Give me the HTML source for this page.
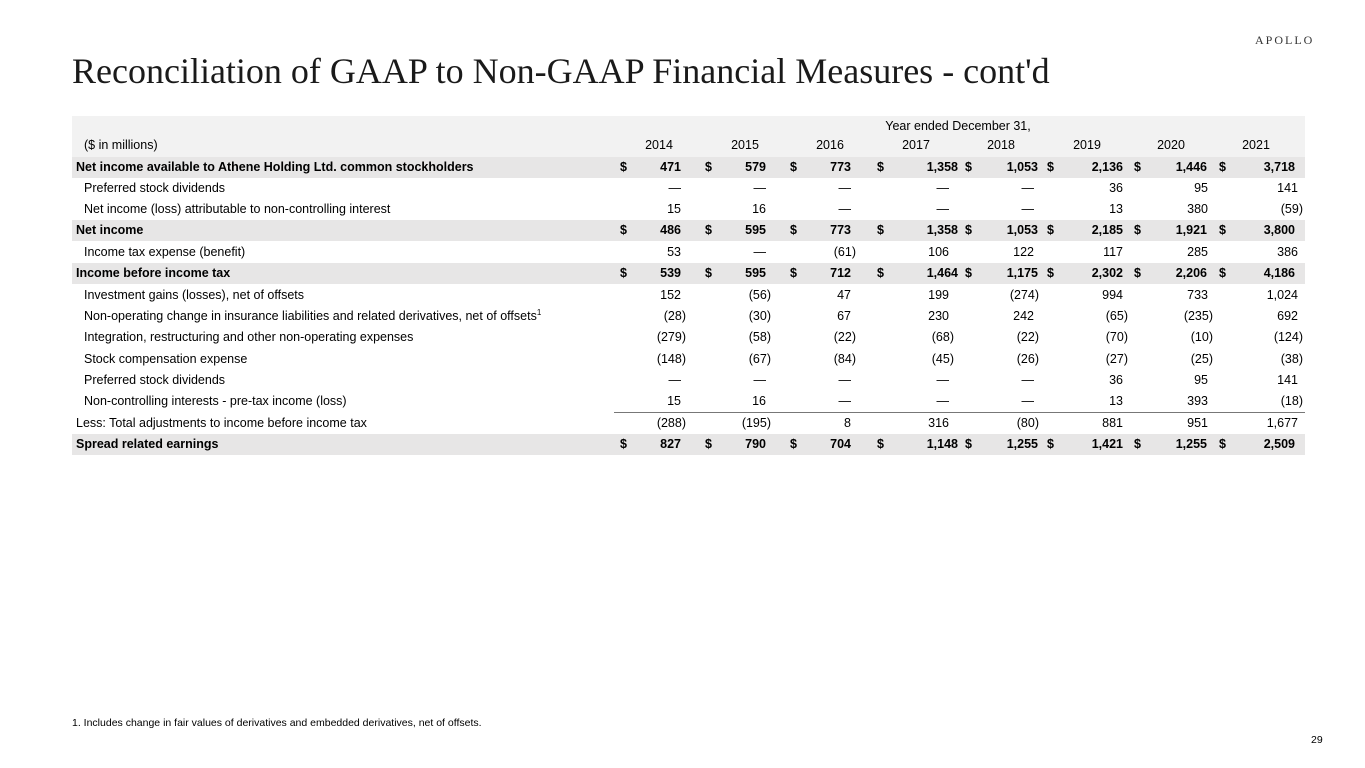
<!DOCTYPE html>
<html><head><meta charset="utf-8"><style>
body{margin:0;width:1365px;height:768px;background:#fff;position:relative;overflow:hidden;font-family:"Liberation Sans",Arial,sans-serif;color:#000}
.t{position:absolute;left:72px;top:50px;font-family:"Liberation Serif",serif;font-size:36px;color:#1a1a1a;white-space:nowrap}
.logo{position:absolute;left:1255px;top:33px;font-family:"Liberation Serif",serif;font-size:12px;letter-spacing:2px;color:#333}
.hb{position:absolute;left:72px;top:116px;width:1233px;height:41px;background:#f2f2f2}
.r{position:absolute;left:72px;width:1233px;height:21px;font-size:12.5px;line-height:21px}
.g{background:#e7e6e6;font-weight:bold}
.r span{position:absolute;white-space:nowrap}
sup{line-height:0;font-size:8px}
.l{left:12px}.g .l{left:4px}
.n1{right:624px}.n2{right:539px}.n3{right:454px}.n4{right:356px}.n5{right:271px}.n6{right:182px}.n7{right:97px}.n8{right:7px}
.g .n4{right:347px}.g .n5{right:267px}.g .n6{right:182px}.g .n7{right:98px}.g .n8{right:10px}
.p{transform:translateX(5px)}
.d1{left:548px}.d2{left:633px}.d3{left:718px}.d4{left:805px}.d5{left:893px}.d6{left:975px}.d7{left:1062px}.d8{left:1147px}
.yr{position:absolute;top:138px;font-size:12.5px;transform:translateX(-50%)}
</style></head><body>
<div class="logo">APOLLO</div>
<div class="t">Reconciliation of GAAP to Non-GAAP Financial Measures - cont'd</div>
<div class="hb"></div>
<div style="position:absolute;left:958px;top:119px;font-size:12.5px;transform:translateX(-50%);white-space:nowrap">Year ended December 31,</div>
<div style="position:absolute;left:84px;top:138px;font-size:12.5px">($ in millions)</div>
<div class="yr" style="left:659px">2014</div><div class="yr" style="left:745px">2015</div><div class="yr" style="left:830px">2016</div><div class="yr" style="left:916px">2017</div><div class="yr" style="left:1001px">2018</div><div class="yr" style="left:1087px">2019</div><div class="yr" style="left:1171px">2020</div><div class="yr" style="left:1256px">2021</div>

<div class="r g" style="top:157px"><span class="l">Net income available to Athene Holding Ltd. common stockholders</span><span class="d1">$</span><span class="n1">471</span><span class="d2">$</span><span class="n2">579</span><span class="d3">$</span><span class="n3">773</span><span class="d4">$</span><span class="n4">1,358</span><span class="d5">$</span><span class="n5">1,053</span><span class="d6">$</span><span class="n6">2,136</span><span class="d7">$</span><span class="n7">1,446</span><span class="d8">$</span><span class="n8">3,718</span></div>
<div class="r" style="top:178px"><span class="l">Preferred stock dividends</span><span class="n1">—</span><span class="n2">—</span><span class="n3">—</span><span class="n4">—</span><span class="n5">—</span><span class="n6">36</span><span class="n7">95</span><span class="n8">141</span></div>
<div class="r" style="top:199px"><span class="l">Net income (loss) attributable to non-controlling interest</span><span class="n1">15</span><span class="n2">16</span><span class="n3">—</span><span class="n4">—</span><span class="n5">—</span><span class="n6">13</span><span class="n7">380</span><span class="n8 p">(59)</span></div>
<div class="r g" style="top:220px"><span class="l">Net income</span><span class="d1">$</span><span class="n1">486</span><span class="d2">$</span><span class="n2">595</span><span class="d3">$</span><span class="n3">773</span><span class="d4">$</span><span class="n4">1,358</span><span class="d5">$</span><span class="n5">1,053</span><span class="d6">$</span><span class="n6">2,185</span><span class="d7">$</span><span class="n7">1,921</span><span class="d8">$</span><span class="n8">3,800</span></div>
<div class="r" style="top:242px"><span class="l">Income tax expense (benefit)</span><span class="n1">53</span><span class="n2">—</span><span class="n3 p">(61)</span><span class="n4">106</span><span class="n5">122</span><span class="n6">117</span><span class="n7">285</span><span class="n8">386</span></div>
<div class="r g" style="top:263px"><span class="l">Income before income tax</span><span class="d1">$</span><span class="n1">539</span><span class="d2">$</span><span class="n2">595</span><span class="d3">$</span><span class="n3">712</span><span class="d4">$</span><span class="n4">1,464</span><span class="d5">$</span><span class="n5">1,175</span><span class="d6">$</span><span class="n6">2,302</span><span class="d7">$</span><span class="n7">2,206</span><span class="d8">$</span><span class="n8">4,186</span></div>
<div class="r" style="top:285px"><span class="l">Investment gains (losses), net of offsets</span><span class="n1">152</span><span class="n2 p">(56)</span><span class="n3">47</span><span class="n4">199</span><span class="n5 p">(274)</span><span class="n6">994</span><span class="n7">733</span><span class="n8">1,024</span></div>
<div class="r" style="top:306px"><span class="l">Non-operating change in insurance liabilities and related derivatives, net of offsets<sup>1</sup></span><span class="n1 p">(28)</span><span class="n2 p">(30)</span><span class="n3">67</span><span class="n4">230</span><span class="n5">242</span><span class="n6 p">(65)</span><span class="n7 p">(235)</span><span class="n8">692</span></div>
<div class="r" style="top:327px"><span class="l">Integration, restructuring and other non-operating expenses</span><span class="n1 p">(279)</span><span class="n2 p">(58)</span><span class="n3 p">(22)</span><span class="n4 p">(68)</span><span class="n5 p">(22)</span><span class="n6 p">(70)</span><span class="n7 p">(10)</span><span class="n8 p">(124)</span></div>
<div class="r" style="top:349px"><span class="l">Stock compensation expense</span><span class="n1 p">(148)</span><span class="n2 p">(67)</span><span class="n3 p">(84)</span><span class="n4 p">(45)</span><span class="n5 p">(26)</span><span class="n6 p">(27)</span><span class="n7 p">(25)</span><span class="n8 p">(38)</span></div>
<div class="r" style="top:370px"><span class="l">Preferred stock dividends</span><span class="n1">—</span><span class="n2">—</span><span class="n3">—</span><span class="n4">—</span><span class="n5">—</span><span class="n6">36</span><span class="n7">95</span><span class="n8">141</span></div>
<div class="r" style="top:391px"><span class="l">Non-controlling interests - pre-tax income (loss)</span><span class="n1">15</span><span class="n2">16</span><span class="n3">—</span><span class="n4">—</span><span class="n5">—</span><span class="n6">13</span><span class="n7">393</span><span class="n8 p">(18)</span></div>
<div style="position:absolute;left:614px;top:412px;width:691px;height:1px;background:#777"></div>
<div class="r" style="top:413px"><span class="l" style="left:4px">Less: Total adjustments to income before income tax</span><span class="n1 p">(288)</span><span class="n2 p">(195)</span><span class="n3">8</span><span class="n4">316</span><span class="n5 p">(80)</span><span class="n6">881</span><span class="n7">951</span><span class="n8">1,677</span></div>
<div class="r g" style="top:434px"><span class="l">Spread related earnings</span><span class="d1">$</span><span class="n1">827</span><span class="d2">$</span><span class="n2">790</span><span class="d3">$</span><span class="n3">704</span><span class="d4">$</span><span class="n4">1,148</span><span class="d5">$</span><span class="n5">1,255</span><span class="d6">$</span><span class="n6">1,421</span><span class="d7">$</span><span class="n7">1,255</span><span class="d8">$</span><span class="n8">2,509</span></div>

<div style="position:absolute;left:72px;top:717px;font-size:10.5px">1. Includes change in fair values of derivatives and embedded derivatives, net of offsets.</div>
<div style="position:absolute;left:1311px;top:734px;font-size:10.5px">29</div>
</body></html>
